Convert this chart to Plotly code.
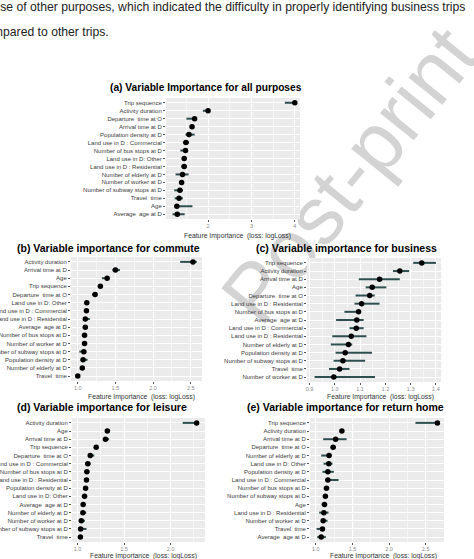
import numpy as np
import plotly.graph_objects as go

W, H = 474, 559

# (a) all purposes
a_vars = ["Trip sequence", "Activity duration", "Departure  time at O", "Arrival time at D",
          "Population density at D", "Land use in D : Commercial", "Number of bus stops at D",
          "Land use in D: Other", "Land use in D : Residential", "Number of elderly at D",
          "Number of worker at D", "Number of subway stops at D", "Travel  time", "Age",
          "Average  age at D"]
a_imp = [4.0, 2.0, 1.69, 1.63, 1.56, 1.49, 1.48, 1.45, 1.45, 1.41, 1.39, 1.35, 1.33, 1.28, 1.29]
a_lo = [3.77, 1.88, 1.50, 1.58, 1.48, 1.42, 1.36, 1.40, 1.38, 1.25, 1.35, 1.22, 1.23, 1.23, 1.18]
a_hi = [4.0, 2.04, 1.72, 1.67, 1.69, 1.56, 1.52, 1.50, 1.50, 1.55, 1.43, 1.42, 1.42, 1.64, 1.46]

# (b) commute
b_vars = ["Activity duration", "Arrival time at D", "Age", "Trip sequence", "Departure  time at O",
          "Land use in D: Other", "Land use in D : Commercial", "Land use in D : Residential",
          "Average  age at D", "Number of bus stops at D", "Number of worker at D",
          "Number of subway stops at D", "Population density at D", "Number of elderly at D",
          "Travel  time"]
b_imp = [2.53, 1.50, 1.39, 1.30, 1.23, 1.12, 1.115, 1.10, 1.10, 1.09, 1.09, 1.08, 1.07, 1.06, 1.0]
b_lo = [2.36, 1.46, 1.32, 1.28, 1.19, 1.09, 1.09, 1.07, 1.07, 1.07, 1.06, 1.02, 1.04, 1.04, 0.97]
b_hi = [2.58, 1.56, 1.41, 1.32, 1.25, 1.14, 1.14, 1.16, 1.12, 1.11, 1.12, 1.115, 1.13, 1.08, 1.03]

# (c) business (the residential label really appears twice)
c_vars = ["Trip sequence", "Activity duration", "Arrival time at D", "Age", "Departure  time at O",
          "Land use in D : Residential", "Number of bus stops at D", "Average  age at D",
          "Land use in D : Commercial", "Land use in D : Residential", "Number of elderly at D",
          "Population density at D", "Number of subway stops at D", "Travel  time",
          "Number of worker at D"]
c_imp = [1.344, 1.257, 1.177, 1.148, 1.138, 1.106, 1.094, 1.087, 1.085, 1.065, 1.054, 1.041, 1.032, 1.019, 0.996]
c_lo = [1.31, 1.23, 1.095, 1.122, 1.082, 1.078, 1.038, 1.005, 1.058, 0.99, 0.984, 1.003, 0.995, 0.977, 0.92]
c_hi = [1.40, 1.294, 1.257, 1.204, 1.158, 1.177, 1.10, 1.114, 1.114, 1.125, 1.069, 1.147, 1.12, 1.058, 1.159]

# (d) leisure
d_vars = ["Activity duration", "Age", "Arrival time at D", "Trip sequence", "Departure  time at O",
          "Land use in D : Commercial", "Number of bus stops at D", "Land use in D : Residential",
          "Population density at D", "Land use in D: Other", "Average  age at D",
          "Number of elderly at D", "Number of worker at D", "Number of subway stops at D",
          "Travel  time"]
d_imp = [2.28, 1.32, 1.30, 1.20, 1.136, 1.11, 1.10, 1.096, 1.086, 1.075, 1.06, 1.057, 1.04, 1.032, 1.03]
d_lo = [2.13, 1.295, 1.28, 1.19, 1.115, 1.08, 1.07, 1.08, 1.065, 1.055, 1.043, 1.036, 1.02, 1.014, 1.007]
d_hi = [2.30, 1.35, 1.34, 1.21, 1.18, 1.14, 1.125, 1.118, 1.108, 1.093, 1.079, 1.093, 1.079, 1.096, 1.05]

# (e) return home
e_vars = ["Trip sequence", "Activity duration", "Arrival time at D", "Departure  time at O",
          "Number of elderly at D", "Land use in D: Other", "Population density at D",
          "Land use in D : Commercial", "Number of bus stops at D", "Number of subway stops at D",
          "Age", "Land use in D : Residential", "Number of worker at D", "Travel  time",
          "Average  age at D"]
e_imp = [2.66, 1.355, 1.27, 1.236, 1.18, 1.177, 1.164, 1.164, 1.145, 1.13, 1.118, 1.109, 1.10, 1.09, 1.073]
e_lo = [2.36, 1.327, 1.10, 1.20, 1.073, 1.105, 1.09, 1.127, 1.11, 1.10, 1.08, 1.045, 1.068, 1.01, 1.018]
e_hi = [2.66, 1.386, 1.42, 1.273, 1.214, 1.227, 1.245, 1.31, 1.182, 1.164, 1.145, 1.173, 1.16, 1.114, 1.136]

x_title = "Feature Importance  (loss: logLoss)"
text_line1 = "because of other purposes, which indicated the difficulty in properly identifying business trips"
text_line2 = "compared to other trips."
watermark = "Post-print"

FONT = "Liberation Sans, Arial, Helvetica, sans-serif"
BAR = "#2F4F4F"

# pixel boxes (left, right, top, bottom) of each panel and its text placement
panels = [
    dict(t="(a) Variable Importance for all purposes", v=a_vars, m=a_imp, lo=a_lo, hi=a_hi,
         box=(166, 300, 98, 219), xr=(1.03, 4.12), dt=1, fmt="d", tpos=(206, 87), tsize=10.2, apos=(237, 236)),
    dict(t="(b) Variable importance for commute", v=b_vars, m=b_imp, lo=b_lo, hi=b_hi,
         box=(71, 202, 257, 381), xr=(0.91, 2.65), dt=0.5, fmt=".1f", tpos=(108, 248), tsize=10.5, apos=(141, 397)),
    dict(t="(c) Variable importance for business", v=c_vars, m=c_imp, lo=c_lo, hi=c_hi,
         box=(307, 441, 258, 382), xr=(0.89, 1.42), dt=0.1, fmt=".1f", tpos=(346, 248), tsize=10.5, apos=(380, 397)),
    dict(t="(d) Variable importance for leisure", v=d_vars, m=d_imp, lo=d_lo, hi=d_hi,
         box=(72, 205, 418, 542), xr=(0.94, 2.37), dt=0.5, fmt=".1f", tpos=(102, 407), tsize=10.5, apos=(143, 555.5)),
    dict(t="(e) Variable importance for return home", v=e_vars, m=e_imp, lo=e_lo, hi=e_hi,
         box=(310, 444, 418, 542), xr=(0.92, 2.75), dt=0.5, fmt=".1f", tpos=(345, 407), tsize=10.5, apos=(383, 555.5)),
]


def px(x):
    return x / W


def py(y):
    return 1 - y / H


fig = go.Figure()

# watermark lives on the first subplot so the panels are painted over it
fig.add_trace(go.Scatter(x=[], y=[], xaxis="x", yaxis="y", showlegend=False, hoverinfo="skip"))

layout = dict(
    xaxis=dict(domain=[0, 1], range=[0, W], anchor="y", tickvals=[468], ticktext=[watermark],
               tickangle=-51, tickfont=dict(size=82, color="#d3d3d3", family=FONT),
               ticklabeloverflow="allow", ticklabelshift=-18, ticklabelstandoff=-20,
               showgrid=False, zeroline=False, showline=False, ticks="", automargin=False, fixedrange=True),
    yaxis=dict(domain=[0.985, 1], range=[0, 1], visible=False, fixedrange=True),
)

shapes = []
annotations = []
for k, p in enumerate(panels, start=2):
    n = len(p["v"])
    ypos = np.arange(n)[::-1]
    imp = np.array(p["m"])
    lo = np.array(p["lo"])
    hi = np.array(p["hi"])
    x0, x1, y0, y1 = p["box"]
    yr = [-0.6, n - 1 + 0.6]

    fig.add_trace(go.Scatter(
        x=imp, y=ypos, mode="markers", xaxis=f"x{k}", yaxis=f"y{k}", showlegend=False,
        marker=dict(color="black", size=5.5),
        error_x=dict(type="data", symmetric=False, array=hi - imp, arrayminus=imp - lo,
                     width=0, thickness=2, color=BAR),
    ))

    layout[f"xaxis{k}"] = dict(
        domain=[px(x0), px(x1)], anchor=f"y{k}", range=list(p["xr"]), dtick=p["dt"], tick0=0,
        tickformat=p["fmt"], showgrid=True, gridcolor="white", gridwidth=1,
        minor=dict(dtick=p["dt"] / 2, showgrid=True, gridcolor="#F6F6F6", gridwidth=0.5),
        zeroline=False, showline=False, ticks="outside", ticklen=1.5, tickwidth=0.6, tickcolor="#555",
        tickfont=dict(size=5.5, color="#8a8a8a", family=FONT), automargin=False, fixedrange=True,
    )
    layout[f"yaxis{k}"] = dict(
        domain=[py(y1), py(y0)], anchor=f"x{k}", range=yr, tickvals=list(ypos), ticktext=p["v"],
        showgrid=True, gridcolor="white", gridwidth=1, zeroline=False, showline=False,
        ticks="outside", ticklen=2, tickwidth=0.6, tickcolor="#555",
        tickfont=dict(size=6, color="#3a3a3a", family=FONT), automargin=False, fixedrange=True,
    )

    # grey panel background as a shape inside the subplot (covers the watermark)
    shapes.append(dict(type="rect", xref=f"x{k}", yref=f"y{k}", x0=p["xr"][0], x1=p["xr"][1],
                       y0=yr[0], y1=yr[1], fillcolor="#EBEBEB", line=dict(width=0), layer="below"))

    annotations.append(dict(text=f"<b>{p['t']}</b>", x=px(p["tpos"][0]), y=py(p["tpos"][1]),
                            xref="paper", yref="paper", showarrow=False, xanchor="center", yanchor="middle",
                            font=dict(size=p["tsize"], color="black", family=FONT)))
    annotations.append(dict(text=x_title, x=px(p["apos"][0]), y=py(p["apos"][1]),
                            xref="paper", yref="paper", showarrow=False, xanchor="center", yanchor="middle",
                            font=dict(size=6.8, color="#333", family=FONT)))

annotations.append(dict(text=text_line1, x=px(467), y=py(7), xref="paper", yref="paper", showarrow=False,
                        xanchor="right", yanchor="middle", font=dict(size=12.2, color="#222", family=FONT)))
annotations.append(dict(text=text_line2, x=px(111), y=py(32), xref="paper", yref="paper", showarrow=False,
                        xanchor="right", yanchor="middle", font=dict(size=12.2, color="#222", family=FONT)))

fig.update_layout(
    **layout,
    width=W, height=H, margin=dict(l=0, r=0, t=0, b=0),
    paper_bgcolor="white", plot_bgcolor="rgba(0,0,0,0)", template="none",
    shapes=shapes, annotations=annotations, showlegend=False,
)

fig.write_html("out.html", config={"displayModeBar": False},
               post_script="document.body.style.margin='0';")
